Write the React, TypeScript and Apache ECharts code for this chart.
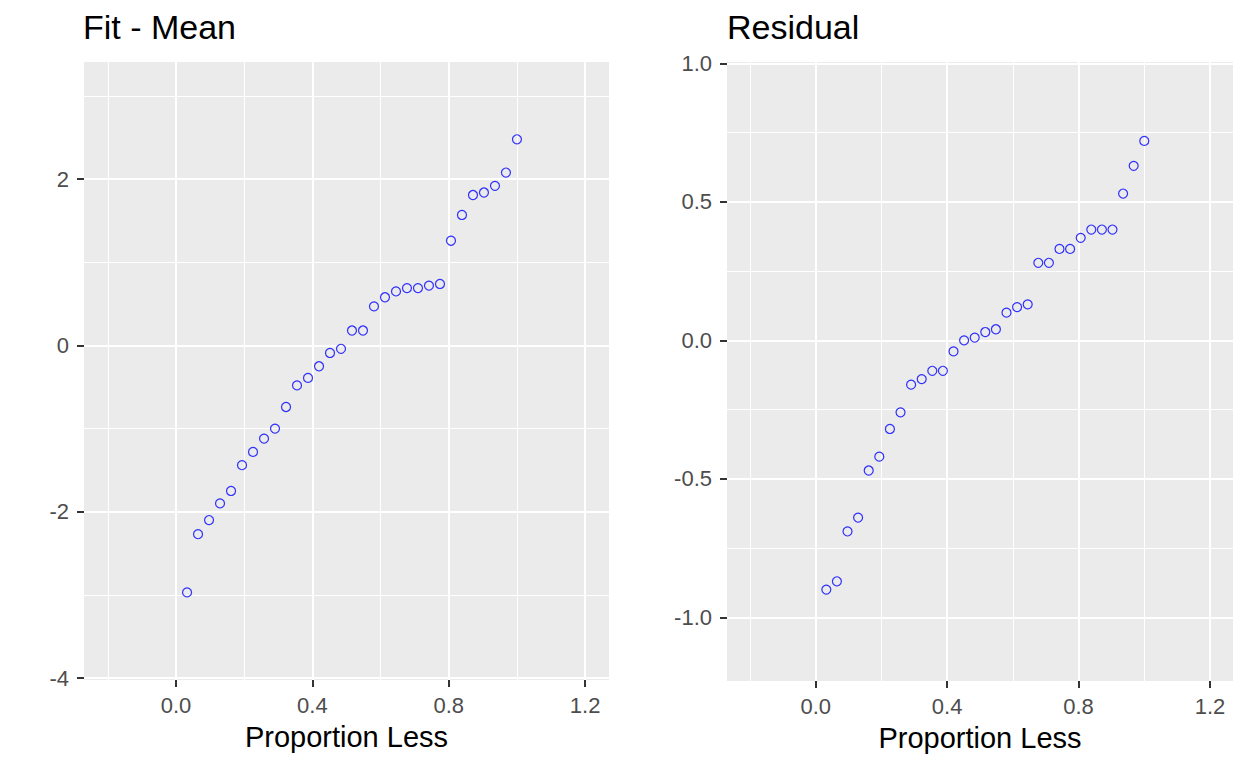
import React, { useEffect, useRef } from "react";
import * as echarts from "echarts";

const proportionLess = [
  0.0323, 0.0645, 0.0968, 0.129, 0.1613, 0.1935, 0.2258, 0.2581, 0.2903, 0.3226,
  0.3548, 0.3871, 0.4194, 0.4516, 0.4839, 0.5161, 0.5484, 0.5806, 0.6129, 0.6452,
  0.6774, 0.7097, 0.7419, 0.7742, 0.8065, 0.8387, 0.871, 0.9032, 0.9355, 0.9677, 1.0,
];
const fitMean = [
  -2.97, -2.27, -2.1, -1.9, -1.75, -1.44, -1.28, -1.12, -1.0, -0.74,
  -0.48, -0.39, -0.25, -0.09, -0.04, 0.18, 0.18, 0.47, 0.58, 0.65,
  0.69, 0.69, 0.72, 0.74, 1.26, 1.57, 1.81, 1.84, 1.92, 2.08, 2.48,
];
const residual = [
  -0.9, -0.87, -0.69, -0.64, -0.47, -0.42, -0.32, -0.26, -0.16, -0.14,
  -0.11, -0.11, -0.04, 0.0, 0.01, 0.03, 0.04, 0.1, 0.12, 0.13,
  0.28, 0.28, 0.33, 0.33, 0.37, 0.4, 0.4, 0.4, 0.53, 0.63, 0.72,
];

const xTicks = [0, 0.4, 0.8, 1.2];
const xMinor = [-0.2, 0.2, 0.6, 1.0];
const leftYTicks = [-4, -2, 0, 2];
const leftYMinor = [-3, -1, 1, 3];
const rightYTicks = [-1, -0.5, 0, 0.5, 1];
const rightYMinor = [-0.75, -0.25, 0.25, 0.75];

const FONT = "Liberation Sans, Arial, sans-serif";
const LABEL_COLOR = "#4D4D4D";

function gridLines(xMaj: number[], xMin: number[], yMaj: number[], yMin: number[]) {
  const major = { color: "#FFFFFF", width: 2, type: "solid" as const };
  const minor = { color: "#FFFFFF", width: 1, type: "solid" as const };
  return [
    ...xMin.map((v) => ({ xAxis: v, lineStyle: minor })),
    ...yMin.map((v) => ({ yAxis: v, lineStyle: minor })),
    ...xMaj.map((v) => ({ xAxis: v, lineStyle: major })),
    ...yMaj.map((v) => ({ yAxis: v, lineStyle: major })),
  ];
}

const hiddenLine = { show: true, onZero: false, lineStyle: { color: "rgba(0,0,0,0)", width: 0 } };
const tickStyle = { color: "#333333", width: 2 };

function xAxisFor(gridIndex: number) {
  return {
    type: "value",
    gridIndex,
    min: -0.27,
    max: 1.27,
    name: "Proportion Less",
    nameLocation: "middle",
    nameGap: 57,
    nameTextStyle: { fontFamily: FONT, fontSize: 29, color: "#000000", verticalAlign: "middle" },
    axisLine: hiddenLine,
    axisTick: { show: true, inside: false, length: 7, customValues: xTicks, lineStyle: tickStyle },
    axisLabel: {
      show: true,
      customValues: xTicks,
      margin: 14,
      fontFamily: FONT,
      fontSize: 22,
      color: LABEL_COLOR,
      formatter: (v: number) => v.toFixed(1),
    },
    splitLine: { show: false },
    minorSplitLine: { show: false },
  };
}

function yAxisFor(gridIndex: number, min: number, max: number, ticks: number[], digits: number) {
  return {
    type: "value",
    gridIndex,
    min,
    max,
    axisLine: hiddenLine,
    axisTick: { show: true, inside: false, length: 7, customValues: ticks, lineStyle: tickStyle },
    axisLabel: {
      show: true,
      customValues: ticks,
      margin: 15,
      fontFamily: FONT,
      fontSize: 22,
      color: LABEL_COLOR,
      formatter: (v: number) => v.toFixed(digits),
    },
    splitLine: { show: false },
  };
}

function scatterSeries(idx: number, values: number[], lines: any[]) {
  return {
    type: "scatter",
    xAxisIndex: idx,
    yAxisIndex: idx,
    z: 3,
    symbol: "circle",
    symbolSize: 9,
    itemStyle: { color: "rgba(0,0,0,0)", borderColor: "#0000FF", borderWidth: 1.2 },
    emphasis: { disabled: true },
    data: proportionLess.map((x, i) => [x, values[i]]),
    markLine: {
      silent: true,
      z: 1,
      symbol: ["none", "none"],
      label: { show: false },
      emphasis: { disabled: true },
      data: lines,
    },
  };
}

const titleStyle = { fontFamily: FONT, fontSize: 34, fontWeight: "normal", color: "#000000" };

export default function App() {
  const ref = useRef<HTMLDivElement>(null);
  useEffect(() => {
    if (!ref.current) return;
    const chart = echarts.init(ref.current, undefined, { renderer: "svg" });
    chart.setOption({
      animation: false,
      backgroundColor: "#FFFFFF",
      title: [
        { text: "Fit - Mean", left: 83, top: 10, padding: 0, textStyle: titleStyle },
        { text: "Residual", left: 727, top: 10, padding: 0, textStyle: titleStyle },
      ],
      grid: [
        { left: 84, top: 62, width: 525, height: 618, show: true, backgroundColor: "#EBEBEB", borderWidth: 0 },
        { left: 727, top: 62, width: 506, height: 619, show: true, backgroundColor: "#EBEBEB", borderWidth: 0 },
      ],
      xAxis: [xAxisFor(0), xAxisFor(1)],
      yAxis: [
        yAxisFor(0, -4.024, 3.41, leftYTicks, 0),
        yAxisFor(1, -1.23, 1.005, rightYTicks, 1),
      ],
      series: [
        scatterSeries(0, fitMean, gridLines(xTicks, xMinor, leftYTicks, leftYMinor)),
        scatterSeries(1, residual, gridLines(xTicks, xMinor, rightYTicks, rightYMinor)),
      ],
    });
    return () => chart.dispose();
  }, []);
  return (
    <div
      ref={ref}
      style={{ position: "fixed", left: 0, top: 0, width: 1248, height: 768 }}
    />
  );
}
